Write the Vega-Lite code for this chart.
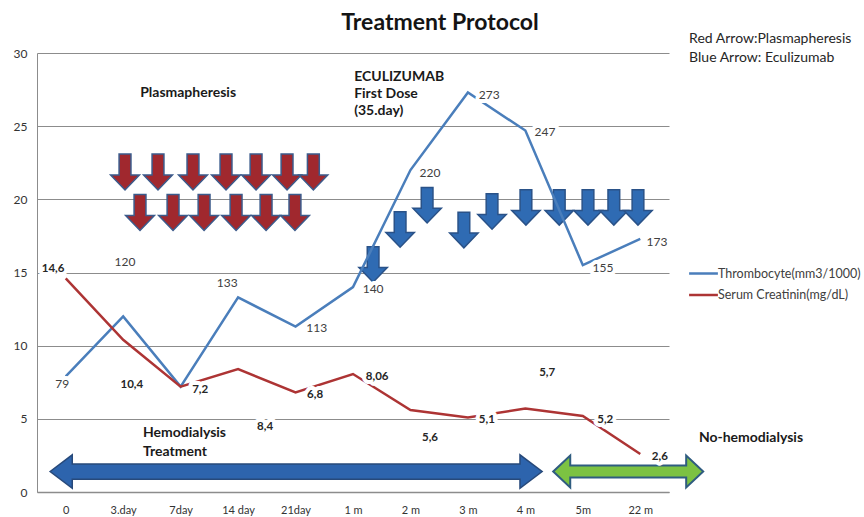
{
  "$schema": "https://vega.github.io/schema/vega-lite/v6.json",
  "width": 632,
  "height": 439,
  "autosize": {"type": "none"},
  "padding": {"left": 37, "top": 53, "right": 195, "bottom": 25},
  "background": "white",
  "config": {
    "view": {"stroke": null},
    "font": "Lato",
    "text": {"font": "Lato"}
  },
  "datasets": {
    "lines": [
      {"x": 0, "y": 7.9, "series": "Thrombocyte(mm3/1000)"},
      {"x": 1, "y": 12.0, "series": "Thrombocyte(mm3/1000)"},
      {"x": 2, "y": 7.2, "series": "Thrombocyte(mm3/1000)"},
      {"x": 3, "y": 13.3, "series": "Thrombocyte(mm3/1000)"},
      {"x": 4, "y": 11.3, "series": "Thrombocyte(mm3/1000)"},
      {"x": 5, "y": 14.0, "series": "Thrombocyte(mm3/1000)"},
      {"x": 6, "y": 22.0, "series": "Thrombocyte(mm3/1000)"},
      {"x": 7, "y": 27.3, "series": "Thrombocyte(mm3/1000)"},
      {"x": 8, "y": 24.7, "series": "Thrombocyte(mm3/1000)"},
      {"x": 9, "y": 15.5, "series": "Thrombocyte(mm3/1000)"},
      {"x": 10, "y": 17.3, "series": "Thrombocyte(mm3/1000)"},
      {"x": 0, "y": 14.6, "series": "Serum Creatinin(mg/dL)"},
      {"x": 1, "y": 10.4, "series": "Serum Creatinin(mg/dL)"},
      {"x": 2, "y": 7.2, "series": "Serum Creatinin(mg/dL)"},
      {"x": 3, "y": 8.4, "series": "Serum Creatinin(mg/dL)"},
      {"x": 4, "y": 6.8, "series": "Serum Creatinin(mg/dL)"},
      {"x": 5, "y": 8.06, "series": "Serum Creatinin(mg/dL)"},
      {"x": 6, "y": 5.6, "series": "Serum Creatinin(mg/dL)"},
      {"x": 7, "y": 5.1, "series": "Serum Creatinin(mg/dL)"},
      {"x": 8, "y": 5.7, "series": "Serum Creatinin(mg/dL)"},
      {"x": 9, "y": 5.2, "series": "Serum Creatinin(mg/dL)"},
      {"x": 10, "y": 2.6, "series": "Serum Creatinin(mg/dL)"}
    ],
    "thromboLabels": [
      {"x": -0.06, "y": 7.38, "label": "79"},
      {"x": 1.03, "y": 15.72, "label": "120"},
      {"x": 2.81, "y": 14.29, "label": "133"},
      {"x": 4.37, "y": 11.21, "label": "113"},
      {"x": 5.35, "y": 13.88, "label": "140"},
      {"x": 6.34, "y": 21.8, "label": "220"},
      {"x": 7.37, "y": 27.14, "label": "273"},
      {"x": 8.34, "y": 24.61, "label": "247"},
      {"x": 9.35, "y": 15.31, "label": "155"},
      {"x": 10.29, "y": 17.09, "label": "173"}
    ],
    "creatLabels": [
      {"x": -0.22, "y": 15.24, "label": "14,6"},
      {"x": 1.15, "y": 7.31, "label": "10,4"},
      {"x": 2.34, "y": 6.97, "label": "7,2"},
      {"x": 3.47, "y": 4.44, "label": "8,4"},
      {"x": 4.34, "y": 6.63, "label": "6,8"},
      {"x": 5.42, "y": 7.86, "label": "8,06"},
      {"x": 6.34, "y": 3.69, "label": "5,6"},
      {"x": 7.33, "y": 4.92, "label": "5,1"},
      {"x": 8.38, "y": 8.13, "label": "5,7"},
      {"x": 9.39, "y": 4.92, "label": "5,2"},
      {"x": 10.34, "y": 2.39, "label": "2,6"}
    ],
    "redArrows": [
      {"x": 1.032, "y": 21.87}, {"x": 1.606, "y": 21.87}, {"x": 2.215, "y": 21.87},
      {"x": 2.79, "y": 21.87}, {"x": 3.313, "y": 21.87}, {"x": 3.852, "y": 21.87},
      {"x": 4.31, "y": 21.87},
      {"x": 1.293, "y": 19.1}, {"x": 1.868, "y": 19.1}, {"x": 2.408, "y": 19.1},
      {"x": 2.965, "y": 19.1}, {"x": 3.487, "y": 19.1}, {"x": 3.99, "y": 19.1}
    ],
    "blueArrows": [
      {"x": 5.35, "y": 15.55}, {"x": 5.82, "y": 17.94}, {"x": 6.29, "y": 19.6},
      {"x": 6.93, "y": 17.9}, {"x": 7.42, "y": 19.17}, {"x": 8.01, "y": 19.45},
      {"x": 8.59, "y": 19.45}, {"x": 9.09, "y": 19.45}, {"x": 9.54, "y": 19.45},
      {"x": 9.96, "y": 19.45}
    ],
    "hemoArrow": [{"x": 4.01, "y": 1.4}],
    "noHemoArrow": [{"x": 9.79, "y": 1.4}],
    "titleText": [{"x": 6.515, "y": 31.58, "label": "Treatment Protocol"}],
    "boldNotes": [
      {"x": 2.13, "y": 27.27, "label": "Plasmapheresis", "align": "c"},
      {"x": 5.02, "y": 28.37, "label": "ECULIZUMAB", "align": "l"},
      {"x": 5.02, "y": 27.2, "label": "First Dose", "align": "l"},
      {"x": 5.02, "y": 26.04, "label": "(35.day)", "align": "l"},
      {"x": 1.345, "y": 4.03, "label": "Hemodialysis", "align": "l"},
      {"x": 1.345, "y": 2.73, "label": "Treatment", "align": "l"},
      {"x": 11.02, "y": 3.69, "label": "No-hemodialysis", "align": "l"}
    ],
    "plainNotes": [
      {"x": 10.85, "y": 30.96, "label": "Red Arrow:Plasmapheresis"},
      {"x": 10.85, "y": 29.67, "label": "Blue Arrow: Eculizumab"}
    ]
  },
  "encoding": {
    "x": {
      "field": "x",
      "type": "quantitative",
      "scale": {"domain": [-0.5, 10.5], "nice": false, "zero": false},
      "axis": {
        "title": null,
        "values": [0, 1, 2, 3, 4, 5, 6, 7, 8, 9, 10],
        "labelExpr": "['0','3.day','7day','14 day','21day','1 m','2 m','3 m','4 m','5m','22 m'][datum.value]",
        "grid": false,
        "ticks": false,
        "domainColor": "#8c8c8c",
        "domainWidth": 1.5,
        "labelFont": "Lato",
        "labelFontSize": 11,
        "labelColor": "#333333",
        "labelPadding": 12
      }
    },
    "y": {
      "field": "y",
      "type": "quantitative",
      "scale": {"domain": [0, 30], "nice": false, "zero": true},
      "axis": {
        "title": null,
        "values": [0, 5, 10, 15, 20, 25, 30],
        "grid": true,
        "gridColor": "#8c8c8c",
        "gridWidth": 1,
        "ticks": false,
        "domainColor": "#8c8c8c",
        "labelFont": "Lato",
        "labelFontSize": 12,
        "labelColor": "#333333",
        "labelPadding": 10
      }
    }
  },
  "layer": [
    {
      "data": {"name": "redArrows"},
      "mark": {
        "type": "point",
        "shape": "M -0.33 -1 L 0.33 -1 L 0.33 0.17 L 0.8 0.17 L 0 1 L -0.8 0.17 L -0.33 0.17 Z",
        "size": 1296,
        "filled": true,
        "fill": "#A0282E",
        "stroke": "#3B5B8C",
        "strokeWidth": 1.5,
        "opacity": 1
      }
    },
    {
      "data": {"name": "blueArrows"},
      "mark": {
        "type": "point",
        "shape": "M -0.33 -1 L 0.33 -1 L 0.33 0.17 L 0.8 0.17 L 0 1 L -0.8 0.17 L -0.33 0.17 Z",
        "size": 1260,
        "filled": true,
        "fill": "#2F6BB3",
        "stroke": "#2A5288",
        "strokeWidth": 1.5,
        "opacity": 1
      }
    },
    {
      "data": {"name": "hemoArrow"},
      "mark": {
        "type": "point",
        "shape": "M -1 0 L -0.91 -0.068 L -0.91 -0.031 L 0.91 -0.031 L 0.91 -0.068 L 1 0 L 0.91 0.068 L 0.91 0.031 L -0.91 0.031 L -0.91 0.068 Z",
        "size": 242064,
        "filled": true,
        "fill": "#2D64AD",
        "stroke": "#27497A",
        "strokeWidth": 1.5,
        "opacity": 1
      }
    },
    {
      "data": {"name": "noHemoArrow"},
      "mark": {
        "type": "point",
        "shape": "M -1 0 L -0.773 -0.213 L -0.773 -0.08 L 0.773 -0.08 L 0.773 -0.213 L 1 0 L 0.773 0.213 L 0.773 0.08 L -0.773 0.08 L -0.773 0.213 Z",
        "size": 22500,
        "filled": true,
        "fill": "#7CC242",
        "stroke": "#2F5C80",
        "strokeWidth": 2,
        "opacity": 1
      }
    },
    {
      "data": {"name": "lines"},
      "mark": {"type": "line", "strokeWidth": 2.5},
      "encoding": {
        "color": {
          "field": "series",
          "type": "nominal",
          "sort": null,
          "scale": {
            "domain": ["Thrombocyte(mm3/1000)", "Serum Creatinin(mg/dL)"],
            "range": ["#4A7EBB", "#AD3434"]
          },
          "legend": {
            "title": null,
            "orient": "none",
            "legendX": 653,
            "legendY": 207,
            "padding": 0,
            "symbolType": "M -1.2 0 L 1.2 0",
            "symbolSize": 576,
            "symbolStrokeWidth": 2.5,
            "rowPadding": 1.5,
            "labelOffset": 1,
            "labelFont": "Lato",
            "labelFontSize": 12.5,
            "labelColor": "#404040",
            "labelLimit": 400
          }
        }
      }
    },
    {
      "data": {"name": "thromboLabels"},
      "mark": {"type": "text", "fontSize": 12, "fill": "white", "stroke": "white", "strokeWidth": 8, "strokeJoin": "round", "baseline": "middle"},
      "encoding": {"text": {"field": "label"}}
    },
    {
      "data": {"name": "creatLabels"},
      "mark": {"type": "text", "fontSize": 11.5, "fontWeight": "bold", "fill": "white", "stroke": "white", "strokeWidth": 8, "strokeJoin": "round", "baseline": "middle"},
      "encoding": {"text": {"field": "label"}}
    },
    {
      "data": {"name": "thromboLabels"},
      "mark": {"type": "text", "fontSize": 12, "color": "#404040", "baseline": "middle"},
      "encoding": {"text": {"field": "label"}}
    },
    {
      "data": {"name": "creatLabels"},
      "mark": {"type": "text", "fontSize": 11.5, "fontWeight": "bold", "color": "#262626", "baseline": "middle"},
      "encoding": {"text": {"field": "label"}}
    },
    {
      "data": {"name": "titleText"},
      "mark": {"type": "text", "fontSize": 23, "fontWeight": "bold", "color": "#141414", "align": "center", "baseline": "alphabetic"},
      "encoding": {"text": {"field": "label"}}
    },
    {
      "data": {"name": "boldNotes"},
      "transform": [{"filter": "datum.align === 'c'"}],
      "mark": {"type": "text", "fontSize": 14, "fontWeight": "bold", "color": "#1a1a1a", "align": "center", "baseline": "middle"},
      "encoding": {"text": {"field": "label"}}
    },
    {
      "data": {"name": "boldNotes"},
      "transform": [{"filter": "datum.align === 'l'"}],
      "mark": {"type": "text", "fontSize": 14, "fontWeight": "bold", "color": "#1a1a1a", "align": "left", "baseline": "middle"},
      "encoding": {"text": {"field": "label"}}
    },
    {
      "data": {"name": "plainNotes"},
      "mark": {"type": "text", "fontSize": 14, "color": "#262626", "align": "left", "baseline": "middle"},
      "encoding": {"text": {"field": "label"}}
    }
  ]
}
